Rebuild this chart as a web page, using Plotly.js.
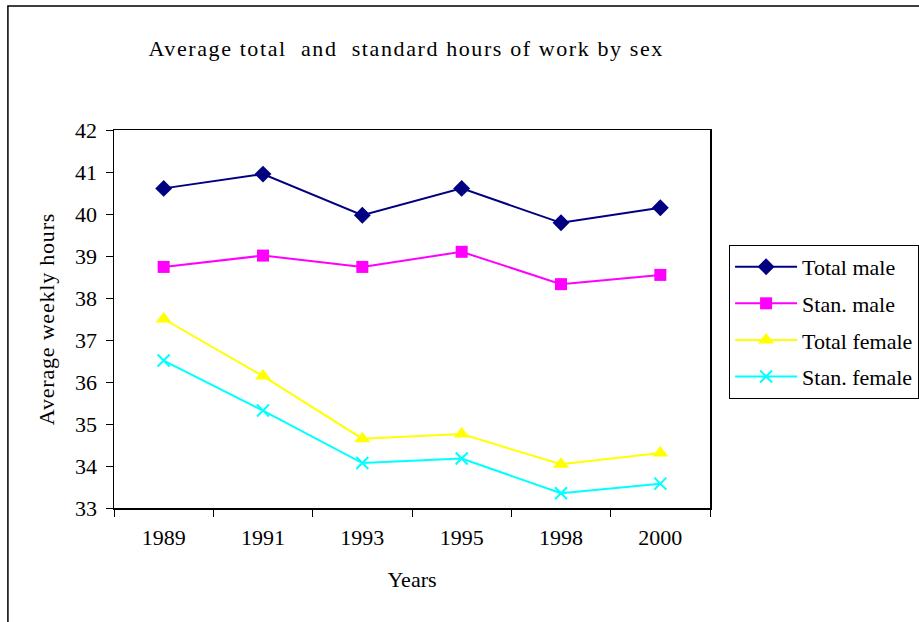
<!DOCTYPE html>
<html>
<head>
<meta charset="utf-8">
<script src="https://cdn.plot.ly/plotly-3.0.1.min.js"></script>
<style>
html,body{margin:0;padding:0;background:#fff;}
#chart{width:919px;height:622px;}
#chart .gtitle{letter-spacing:1.6px;}
#chart .ytitle{letter-spacing:0.8px;}
</style>
</head>
<body>
<div id="chart"></div>
<script>
const years = ["1989", "1991", "1993", "1995", "1998", "2000"];
const totalMale = [40.61, 40.95, 39.97, 40.61, 39.79, 40.15];
const stanMale = [38.74, 39.01, 38.74, 39.10, 38.33, 38.55];
const totalFemale = [37.50, 36.14, 34.65, 34.76, 34.04, 34.31];
const stanFemale = [36.51, 35.32, 34.07, 34.18, 33.35, 33.58];
const seriesNames = ["Total male", "Stan. male", "Total female", "Stan. female"];

const FONT = "'Liberation Serif', 'Times New Roman', serif";

const traces = [
  {x: years, y: totalMale, name: seriesNames[0], legendgroup: "a", type: "scatter", mode: "lines+markers",
   line: {color: "#000080", width: 2}, marker: {symbol: "diamond", size: 13, color: "#000080"}},
  {x: years, y: stanMale, name: seriesNames[1], legendgroup: "b", type: "scatter", mode: "lines+markers",
   line: {color: "#FF00FF", width: 2}, marker: {symbol: "square", size: 12, color: "#FF00FF"}},
  {x: years, y: totalFemale, name: seriesNames[2], legendgroup: "c", type: "scatter", mode: "lines+markers",
   line: {color: "#FFFF00", width: 2}, marker: {symbol: "triangle-up", size: 14, color: "#FFFF00"}},
  {x: years, y: stanFemale, name: seriesNames[3], legendgroup: "d", type: "scatter", mode: "lines+markers",
   line: {color: "#00FFFF", width: 2}, marker: {symbol: "x-thin", size: 12, color: "#00FFFF", line: {color: "#00FFFF", width: 2}}}
];

const layout = {
  width: 919, height: 622,
  paper_bgcolor: "#ffffff", plot_bgcolor: "#ffffff",
  margin: {l: 114, r: 209, t: 130, b: 114, autoexpand: false},
  font: {family: FONT, size: 22, color: "#000"},
  title: {text: "Average total\u00a0 and\u00a0 standard hours of work by sex", x: 0.442, xref: "container", xanchor: "center",
          y: 0.923, yref: "container", yanchor: "middle", font: {family: FONT, size: 22, color: "#000"}},
  xaxis: {type: "category", range: [-0.5, 5.5], tickson: "boundaries", ticks: "outside", ticklen: 7, tickcolor: "#000",
          showline: true, mirror: true, linecolor: "#000", linewidth: 1.5, showgrid: false, zeroline: false,
          ticklabelstandoff: 9,
          tickfont: {family: FONT, size: 22, color: "#000"},
          title: {text: "Years", font: {family: FONT, size: 22, color: "#000"}, standoff: 22}},
  yaxis: {range: [33, 42], dtick: 1, ticks: "outside", ticklen: 7, tickcolor: "#000",
          showline: true, mirror: true, linecolor: "#000", linewidth: 1.5, showgrid: false, zeroline: false,
          ticklabelstandoff: 4,
          tickfont: {family: FONT, size: 22, color: "#000"},
          title: {text: "Average weekly hours", font: {family: FONT, size: 22, color: "#000"}, standoff: 14}},
  showlegend: true,
  legend: {x: 1.032, xref: "paper", xanchor: "left", y: 0.696, yref: "paper", yanchor: "top",
           bordercolor: "#000", borderwidth: 1, bgcolor: "#fff", traceorder: "grouped", tracegroupgap: 5,
           font: {family: FONT, size: 22, color: "#000"}, itemwidth: 62},
  shapes: [{type: "rect", xref: "paper", yref: "paper", x0: -0.178, x1: 1.6, y0: -0.35, y1: 1.328,
            line: {color: "#000", width: 1.5}, fillcolor: "rgba(0,0,0,0)", layer: "below"}]
};

Plotly.newPlot("chart", traces, layout, {displayModeBar: false, staticPlot: true});
</script>
</body>
</html>
